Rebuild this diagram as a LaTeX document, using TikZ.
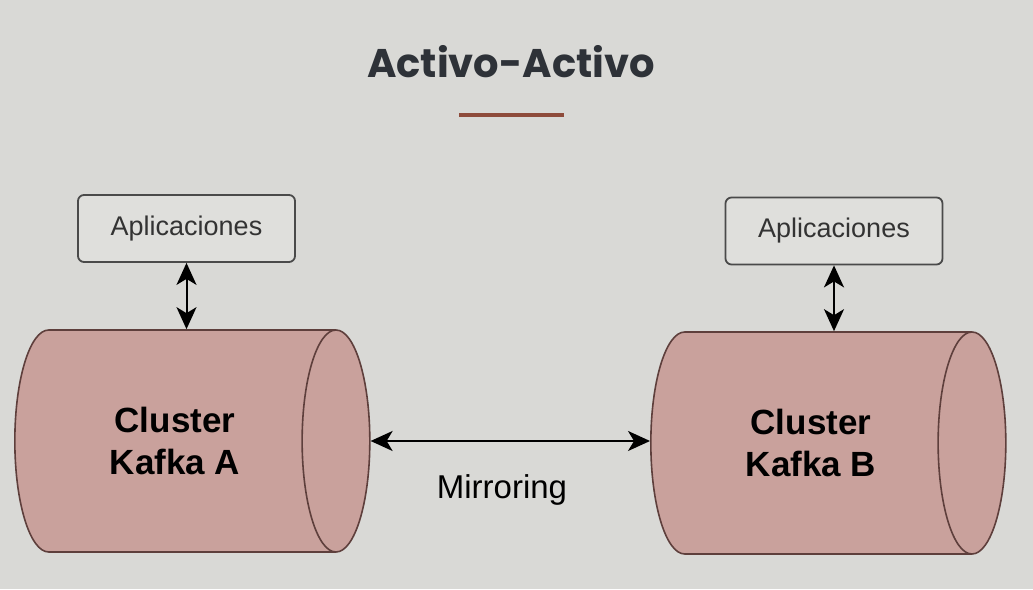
\documentclass[tikz,border=0pt]{standalone}
\usepackage{fontspec}
\setmainfont{Liberation Sans}
\newfontfamily\titlefont{Poppins}
\usetikzlibrary{shapes.geometric,arrows.meta}
\definecolor{screenGray}{HTML}{D9D9D6}
\definecolor{clusterRose}{HTML}{C9A19C}
\definecolor{clusterEdge}{HTML}{5E3F3C}
\definecolor{titleInk}{HTML}{2E3238}
\definecolor{ruleBrown}{HTML}{8E4B3B}
\definecolor{boxEdge}{HTML}{4A4A4A}

\begin{document}
\begin{tikzpicture}[x=1pt,y=1pt,
  appbox/.style={draw=boxEdge,line width=1.8pt,rounded corners=6pt,fill=screenGray!85!white,
    minimum width=217pt,minimum height=67pt,font=\fontsize{27}{32}\selectfont,text=black!80},
  cluster/.style={cylinder,draw=clusterEdge,line width=1.6pt,fill=clusterRose,
    minimum height=355pt,minimum width=222pt,aspect=1,inner sep=0pt,align=center,
    font=\fontsize{35}{42}\selectfont\bfseries},
  link/.style={{Stealth[length=22pt,width=20pt,inset=6pt]}-{Stealth[length=22pt,width=20pt,inset=6pt]},line width=2pt}]
  % Screen
  \fill[screenGray] (0,0) rectangle (1033,589);

  % Title
  \node[font=\titlefont\fontsize{40}{46}\selectfont\bfseries,text=titleInk] (title) at (511,527) {Activo-Activo};
  \draw[ruleBrown,line width=4pt] (459,474) -- (564,474);

  % Cluster A
  \node[cluster] (clA) at (175,148) {Cluster\\Kafka A};
  \node[appbox] (appA) at (186.5,360.5) {Aplicaciones};
  \draw[link] (appA.south) -- (appA.south |- clA.north);

  % Cluster B
  \node[cluster] (clB) at (811,146) {Cluster\\Kafka B};
  \node[appbox] (appB) at (834,358) {Aplicaciones};
  \draw[link] (appB.south) -- (appB.south |- clB.north);

  % Mirroring
  \draw[link] (clA.east) -- (clA.east -| clB.west);
  \node[font=\fontsize{33}{38}\selectfont] (mirror) at (502,99) {Mirroring};
\end{tikzpicture}
\end{document}
